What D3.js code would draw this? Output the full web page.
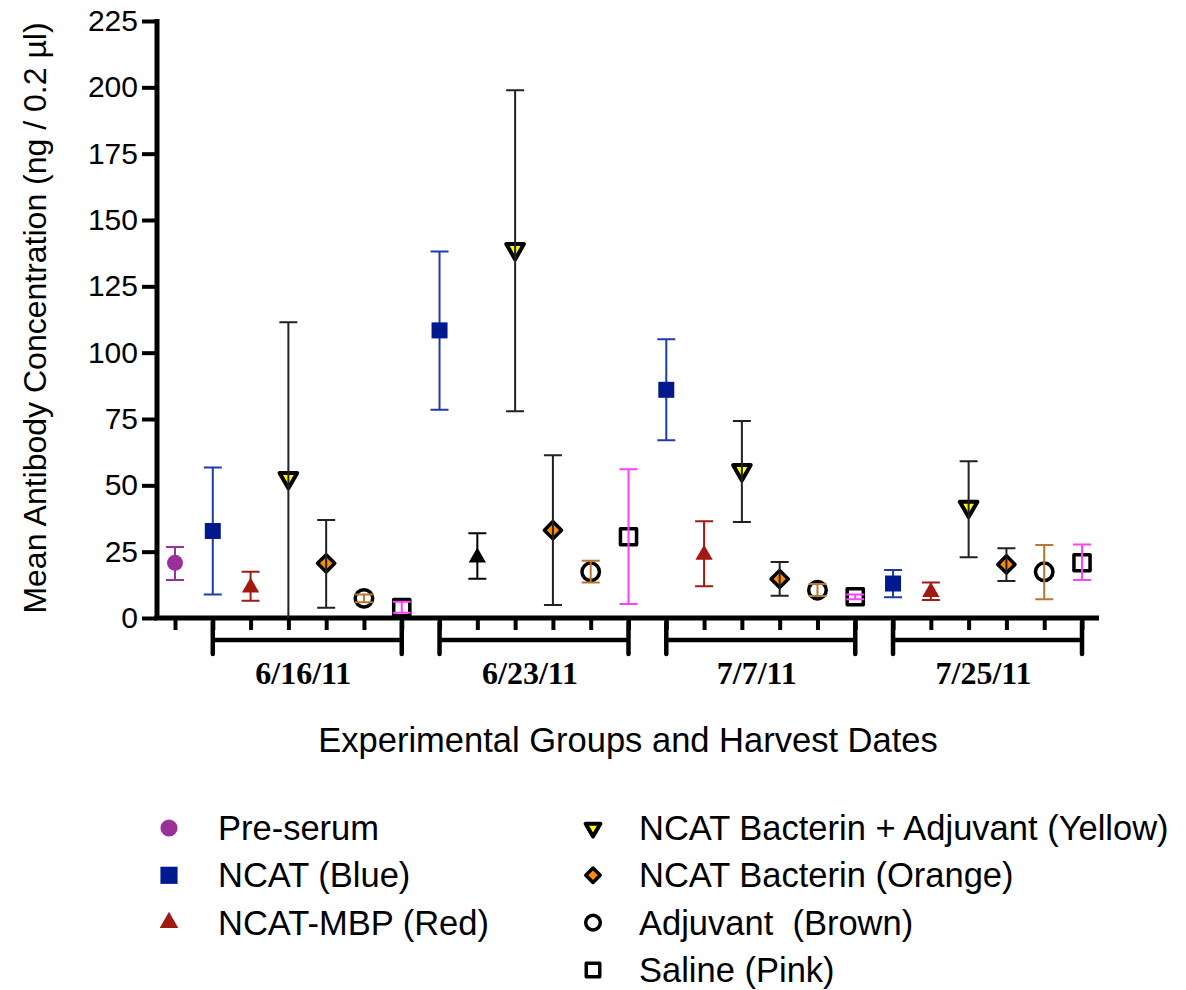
<!DOCTYPE html>
<html>
<head>
<meta charset="utf-8">
<script src="https://cdnjs.cloudflare.com/ajax/libs/d3/7.8.5/d3.min.js"></script>
<style>
  body { margin: 0; background: #fff; }
  text { font-family: "Liberation Sans", Arial, sans-serif; fill: #000; }
</style>
</head>
<body>
<svg id="chart" width="1186" height="990"></svg>
<script>

// Data -- mean, lower and upper end of error bar

var dates = ["6/16/11", "6/23/11", "7/7/11", "7/25/11"];
var groups = ["NCAT (Blue)", "NCAT-MBP (Red)", "NCAT Bacterin + Adjuvant (Yellow)",
              "NCAT Bacterin (Orange)", "Adjuvant  (Brown)", "Saline (Pink)"];
var yTicks = [0, 25, 50, 75, 100, 125, 150, 175, 200, 225];

var preMean = 20.8, preLow = 14.3, preHigh = 26.8;

var ncatMean   = [32.8, 108.4, 86.0, 13.0],
    ncatLow    = [8.9, 78.5, 67.0, 7.8],
    ncatHigh   = [56.7, 138.1, 105.1, 18.1];
var mbpMean    = [11.5, 22.8, 23.8, 9.8],
    mbpLow     = [6.5, 14.8, 12.0, 6.8],
    mbpHigh    = [17.4, 31.9, 36.5, 13.4];
var yellowMean = [52.7, 139.0, 55.7, 41.9],
    yellowLow  = [-6.1, 77.9, 36.2, 22.9],
    yellowHigh = [111.5, 198.9, 74.2, 59.1];
var orangeMean = [20.6, 33.1, 14.7, 20.2],
    orangeLow  = [3.9, 4.9, 8.4, 13.9],
    orangeHigh = [36.9, 61.3, 21.1, 26.3];
var brownMean  = [7.4, 17.4, 10.5, 17.4],
    brownLow   = [5.9, 13.4, 8.3, 7.1],
    brownHigh  = [8.9, 21.6, 12.8, 27.5];
var pinkMean   = [3.9, 30.6, 8.0, 20.8],
    pinkLow    = [2.0, 5.3, 7.1, 14.3],
    pinkHigh   = [6.1, 56.1, 8.9, 27.7];

var means = [ncatMean, mbpMean, yellowMean, orangeMean, brownMean, pinkMean],
    lows  = [ncatLow, mbpLow, yellowLow, orangeLow, brownLow, pinkLow],
    highs = [ncatHigh, mbpHigh, yellowHigh, orangeHigh, brownHigh, pinkHigh];

// Marker styles (pre-serum first, then the six groups)

var styles = [
  { shape: d3.symbolCircle,   size: 200, rot: 0,   fill: "#9b309b", stroke: "none", sw: 0,   bar: "#9b309b", top: false },
  { shape: d3.symbolSquare,   size: 256, rot: 0,   fill: "#00198f", stroke: "none", sw: 0,   bar: "#1f3ca6", top: false },
  { shape: d3.symbolTriangle, size: 130, rot: 0,   fill: "#a01a12", stroke: "none", sw: 0,   bar: "#a01a12", top: false },
  { shape: d3.symbolTriangle, size: 135, rot: 180, fill: "#ffff00", stroke: "#000", sw: 4,   bar: "#222",    top: true },
  { shape: d3.symbolSquare,   size: 148, rot: 45,  fill: "#ff8c00", stroke: "#000", sw: 3.5, bar: "#222",    top: true },
  { shape: d3.symbolCircle,   size: 240, rot: 0,   fill: "#fff",    stroke: "#000", sw: 3.5, bar: "#b8762e", top: true },
  { shape: d3.symbolSquare,   size: 260, rot: 0,   fill: "#fff",    stroke: "#000", sw: 3.5, bar: "#ff40ff", top: true }
];
// NCAT-MBP was plotted in black on 6/23
var mbpColour = ["#a01a12", "#000", "#a01a12", "#a01a12"];

// Build the point list: 1 pre-serum + 4 dates x 6 groups

var points = [{ i: 0, s: 0, mean: preMean, lo: preLow, hi: preHigh, col: null }];
dates.forEach(function(d, di) {
  groups.forEach(function(g, gi) {
    points.push({
      i: 1 + di * 6 + gi,
      s: gi + 1,
      mean: means[gi][di],
      lo: lows[gi][di],
      hi: highs[gi][di],
      col: gi === 1 ? mbpColour[di] : null
    });
  });
});

var svg = d3.select("#chart");

var x = d3.scaleLinear().domain([0, 24]).range([175, 1082]),
    y = d3.scaleLinear().domain([0, 225]).range([618, 21]);

var sym = function(p) {
  var st = styles[p.s];
  return d3.symbol().type(st.shape).size(st.size)();
};

// Axes

var yAxis = svg.append("g")
  .attr("transform", "translate(157,0)")
  .call(d3.axisLeft(y).tickValues(yTicks).tickSize(15).tickPadding(4).tickSizeOuter(0));

yAxis.select(".domain").attr("stroke", "#000").attr("stroke-width", 5)
  .attr("d", "M0," + (y(0) + 2) + "V" + (y(225) - 2));
yAxis.selectAll(".tick line").attr("stroke", "#000").attr("stroke-width", 4);
yAxis.selectAll(".tick text").style("font-size", "30px").attr("fill", "#000");

var xAxis = svg.append("g")
  .attr("transform", "translate(0," + y(0) + ")")
  .call(d3.axisBottom(x).tickValues(d3.range(25)).tickSize(12).tickFormat("").tickSizeOuter(0));

xAxis.select(".domain").attr("stroke", "#000").attr("stroke-width", 5)
  .attr("d", "M" + (x(-0.5) - 2) + ",0H" + x(24.45));
xAxis.selectAll(".tick line").attr("stroke", "#000").attr("stroke-width", 4);

// Date brackets

var brackets = svg.append("g").selectAll("g")
  .data(dates)
  .enter()
  .append("g");

brackets.append("path")
  .attr("fill", "none")
  .attr("stroke", "#000")
  .attr("stroke-width", 4.5)
  .attr("stroke-linecap", "round")
  .attr("d", function(d, i) {
    var x0 = x(1 + i * 6), x1 = x(6 + i * 6);
    return "M" + x0 + ",622V654M" + x1 + ",622V654M" + x0 + ",640H" + x1;
  });

brackets.append("text")
  .attr("x", function(d, i) { return (x(1 + i * 6) + x(6 + i * 6)) / 2 - 4; })
  .attr("y", 684)
  .attr("text-anchor", "middle")
  .style("font-family", "'Liberation Serif', 'Times New Roman', serif")
  .style("font-weight", "bold")
  .style("font-size", "32px")
  .text(function(d) { return d; });

// Error bars and markers

function drawBars(sel) {
  var g = sel.append("g")
    .attr("stroke", function(p) { return p.col || styles[p.s].bar; })
    .attr("stroke-width", 2)
    .attr("fill", "none");
  g.append("path")
    .attr("d", function(p) {
      var cx = x(p.i), lo = Math.max(p.lo, 0);
      var d = "M" + cx + "," + y(lo) + "V" + y(p.hi) + "M" + (cx - 9) + "," + y(p.hi) + "H" + (cx + 9);
      if (p.lo >= 0) d += "M" + (cx - 9) + "," + y(p.lo) + "H" + (cx + 9);
      return d;
    });
}

svg.append("g").selectAll("g")
  .data(points.filter(function(p) { return !styles[p.s].top; }))
  .enter().append("g").call(drawBars);

svg.append("g").selectAll("path")
  .data(points)
  .enter()
  .append("path")
  .attr("d", sym)
  .attr("transform", function(p) {
    return "translate(" + x(p.i) + "," + y(p.mean) + ") rotate(" + styles[p.s].rot + ")";
  })
  .attr("fill", function(p) { return p.col || styles[p.s].fill; })
  .attr("stroke", function(p) { return styles[p.s].stroke; })
  .attr("stroke-width", function(p) { return styles[p.s].sw; })
  .attr("stroke-linejoin", "round");

svg.append("g").selectAll("g")
  .data(points.filter(function(p) { return styles[p.s].top; }))
  .enter().append("g").call(drawBars);

// Axis titles

svg.append("text")
  .attr("transform", "translate(46,318) rotate(-90)")
  .attr("text-anchor", "middle")
  .style("font-size", "32px")
  .text("Mean Antibody Concentration (ng / 0.2 \u00b5l)");

svg.append("text")
  .attr("x", 628)
  .attr("y", 752)
  .attr("text-anchor", "middle")
  .style("font-size", "34.5px")
  .text("Experimental Groups and Harvest Dates");

// Legend

var legendItems = [{ label: "Pre-serum", s: 0 }].concat(groups.map(function(g, gi) {
  return { label: g, s: gi + 1 };
}));

var legend = svg.append("g").selectAll(".legend")
  .data(legendItems)
  .enter()
  .append("g")
  .attr("class", "legend")
  .attr("transform", function(d, i) {
    var col = i < 3 ? 0 : 1, row = i < 3 ? i : i - 3;
    return "translate(" + (col ? 593 : 169) + "," + (828 + row * 47.3) + ")";
  });

legend.append("path")
  .attr("d", function(d) {
    var st = styles[d.s];
    return d3.symbol().type(st.shape).size(st.size * (st.sw ? 0.7 : 1.15))();
  })
  .attr("transform", function(d) { return "rotate(" + styles[d.s].rot + ")"; })
  .attr("fill", function(d) { return styles[d.s].fill; })
  .attr("stroke", function(d) { return styles[d.s].stroke; })
  .attr("stroke-width", function(d) { return styles[d.s].sw; })
  .attr("stroke-linejoin", "round");

legend.append("text")
  .attr("x", function(d, i) { return i < 3 ? 49 : 46; })
  .attr("y", 12)
  .style("font-size", "34.5px")
  .style("white-space", "pre")
  .text(function(d) { return d.label; });

</script>
</body>
</html>
